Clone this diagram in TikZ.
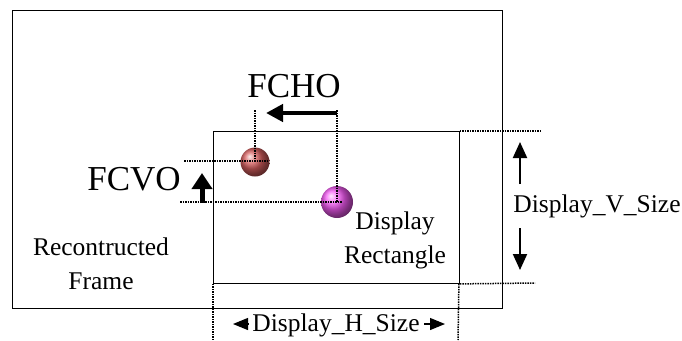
\documentclass[tikz,border=0pt]{standalone}
\usepackage{fontspec}
\setmainfont{Liberation Serif}
\usetikzlibrary{arrows.meta,shadings}
\begin{document}
\begin{tikzpicture}[
    x=1pt, y=-1pt,
    box/.style={draw, line width=0.9pt},
    guide/.style={line width=1.5pt, dash pattern=on 1.5pt off 1pt},
    bigtxt/.style={font=\fontsize{35}{40}\selectfont, inner sep=0pt},
    txt/.style={font=\fontsize{25.5}{34}\selectfont, inner sep=0pt, align=center},
    ball/.style={circle, inner sep=0pt, shading=ball},
    fatarrow/.style={line width=4.5pt, -{Triangle[length=17pt,width=17pt]}},
    dimarrow/.style={line width=2pt, -{Triangle[length=16pt,width=14pt]}},
    smallarrow/.style={line width=1.2pt, -{Triangle[length=15pt,width=12pt]}}
]
\useasboundingbox (0,0) rectangle (682,340);
% Define positions
\coordinate (hstart) at (337,113);
\coordinate (hend) at (266,113);
\coordinate (vstart) at (202,203);
\coordinate (vend) at (202,173);
\coordinate (reftop) at (255,110);
\coordinate (refleft) at (184,161);
\coordinate (refright) at (268,161);
\coordinate (disptop) at (337,110);
\coordinate (displeft) at (180,202);
\coordinate (dispright) at (342,202);
% Frames
\node[box, minimum width=490pt, minimum height=298pt, anchor=north west] (frame) at (12,10) {};
\node[box, minimum width=246pt, minimum height=152pt, anchor=north west] (disprect) at (213,131) {};
% Extension lines
\coordinate (vtopend) at (540,131);
\coordinate (vbotend) at (535,283);
\coordinate (hleftend) at (213,340);
\coordinate (hrightend) at (458,340);
\draw[guide] (disprect.north east) -- (vtopend);
\draw[guide] (disprect.south east) -- (vbotend);
\draw[guide] (disprect.south west) -- (hleftend);
\draw[guide] ([xshift=-1pt]disprect.south east) -- (hrightend);
% Points
\node[ball, ball color={rgb,255:red,215;green,95;blue,95}, minimum size=29pt] (refpt) at (255,162) {};
\node[ball, ball color={rgb,255:red,245;green,90;blue,245}, minimum size=32pt] (disppt) at (337,202) {};
\draw[guide] (reftop) -- (refpt.center);
\draw[guide] (refleft) -- (refright);
\draw[guide] (disptop) -- (disppt.center);
\draw[guide] (displeft) -- (dispright);
% Offsets
\draw[fatarrow] (hstart) -- (hend);
\node[bigtxt] (fcho) at (294,86) {FCHO};
\draw[fatarrow, line width=5pt, -{Triangle[length=16pt,width=20pt]}] (vstart) -- (vend);
\node[bigtxt] (fcvo) at (134,179) {FCVO};
% Labels
\node[txt] (disptxt) at (395,240) {Display\\Rectangle};
\node[txt] (frametxt) at (101,264) {Recontructed\\Frame};
% Vertical size
\node[txt] (vsize) at (597,206) {Display\_V\_Size};
\coordinate (vupfrom) at (520,184);
\coordinate (vupto) at (520,142);
\coordinate (vdownfrom) at (520,228);
\coordinate (vdownto) at (520,270);
\draw[dimarrow] (vupfrom) -- (vupto);
\draw[dimarrow] (vdownfrom) -- (vdownto);
% Horizontal size
\node[txt] (hsize) at (336,325) {Display\_H\_Size};
\coordinate (hlfrom) at (248,324);
\coordinate (hlto) at (233,324);
\coordinate (hrfrom) at (424,324);
\coordinate (hrto) at (445,324);
\draw[smallarrow] (hlfrom) -- (hlto);
\draw[smallarrow] (hrfrom) -- (hrto);
\end{tikzpicture}
\end{document}
